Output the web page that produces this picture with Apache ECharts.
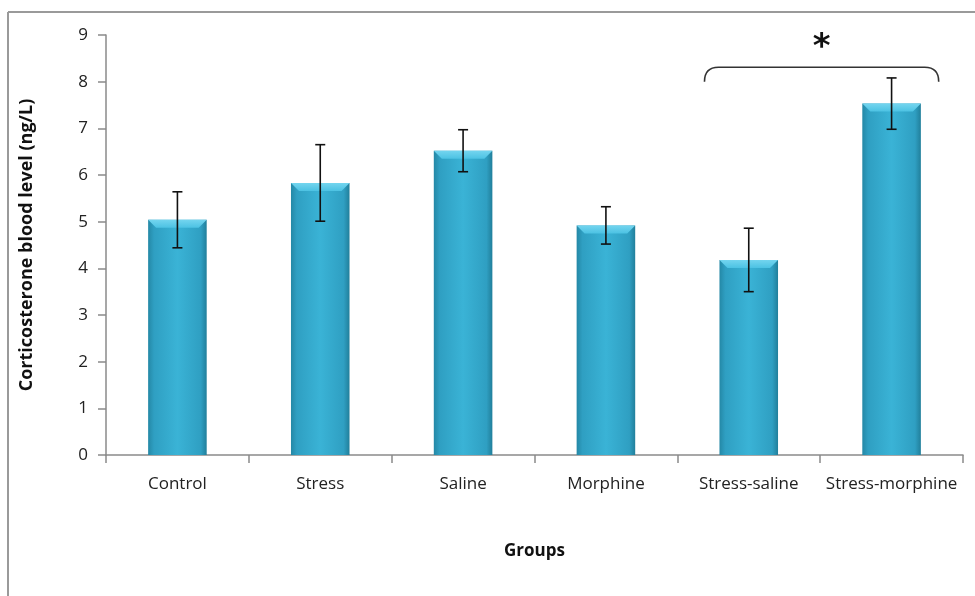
<!DOCTYPE html>
<html>
<head>
<meta charset="utf-8">
<script src="https://cdn.jsdelivr.net/npm/echarts@6/dist/echarts.min.js"></script>
<style>
html,body{margin:0;padding:0;background:#fff;}
#chart{width:975px;height:596px;}
</style>
</head>
<body>
<div id="chart"></div>
<script>
const categories = ['Control', 'Stress', 'Saline', 'Morphine', 'Stress-saline', 'Stress-morphine'];
const means = [5.04, 5.83, 6.52, 4.92, 4.18, 7.53];
const errors = [0.60, 0.82, 0.45, 0.40, 0.68, 0.55];
const yMin = 0, yMax = 9, yInterval = 1;
const bracketGroups = [4, 5];
const bracketTop = 8.31;
const bracketCurl = 8.0;
const asteriskLevel = 8.72;
const yTitle = 'Corticosterone blood level (ng/L)';
const xTitle = 'Groups';

const FONT = '"Open Sans", "Liberation Sans", sans-serif';
const chart = echarts.init(document.getElementById('chart'));

const barGrad = new echarts.graphic.LinearGradient(0, 0, 1, 0, [
  {offset: 0, color: '#2488a6'},
  {offset: 0.1, color: '#2f9fc2'},
  {offset: 0.5, color: '#3ab3d6'},
  {offset: 0.9, color: '#2f9fc2'},
  {offset: 1, color: '#217f9b'}
]);

chart.setOption({
  animation: false,
  graphic: [
    {type: 'line', shape: {x1: 8, y1: 12, x2: 975, y2: 12}, style: {stroke: '#9a9a9a', lineWidth: 2}},
    {type: 'line', shape: {x1: 8, y1: 12, x2: 8, y2: 596}, style: {stroke: '#9a9a9a', lineWidth: 2}}
  ],
  grid: {left: 106, right: 12, top: 35, bottom: 141},
  xAxis: {
    type: 'category',
    data: categories,
    name: xTitle,
    nameLocation: 'middle',
    nameGap: 88,
    nameTextStyle: {fontFamily: FONT, fontWeight: 'bold', fontSize: 17, color: '#111'},
    axisLine: {lineStyle: {color: '#8a8a8a', width: 1.5}},
    axisTick: {show: true, interval: 0, length: 8, lineStyle: {color: '#8a8a8a', width: 1.5}},
    axisLabel: {interval: 0, fontFamily: FONT, fontSize: 17, color: '#222', margin: 21}
  },
  yAxis: {
    type: 'value',
    min: yMin, max: yMax, interval: yInterval,
    name: yTitle,
    nameLocation: 'middle',
    nameGap: 70,
    nameTextStyle: {fontFamily: FONT, fontWeight: 'bold', fontSize: 18, color: '#111'},
    axisLine: {show: true, lineStyle: {color: '#8a8a8a', width: 1.5}},
    axisTick: {show: true, length: 8, lineStyle: {color: '#8a8a8a', width: 1.5}},
    axisLabel: {fontFamily: FONT, fontSize: 17, color: '#222', margin: 18},
    splitLine: {show: false}
  },
  series: [
    {
      type: 'bar',
      data: means,
      barWidth: '41%',
      itemStyle: {color: barGrad},
      z: 2
    },
    {
      // top bevel of each bar
      type: 'custom',
      z: 3,
      data: means.map((v, i) => [i, v]),
      renderItem: function (params, api) {
        const top = api.coord([api.value(0), api.value(1)]);
        const bw = api.size([1, 0])[0] * 0.41;
        const x0 = top[0] - bw / 2, x1 = top[0] + bw / 2, y = top[1], b = 8;
        return {
          type: 'polygon',
          shape: {points: [[x0, y], [x1, y], [x1 - b, y + b], [x0 + b, y + b]]},
          style: {fill: new echarts.graphic.LinearGradient(0, 0, 0, 1, [{offset: 0, color: '#74d5ef'}, {offset: 1, color: '#4cc2e3'}])}
        };
      }
    },
    {
      // error bars
      type: 'custom',
      z: 4,
      data: means.map((v, i) => [i, v - errors[i], v + errors[i]]),
      renderItem: function (params, api) {
        const lo = api.coord([api.value(0), api.value(1)]);
        const hi = api.coord([api.value(0), api.value(2)]);
        const c = 5;
        const st = {stroke: '#111', lineWidth: 1.6};
        return {
          type: 'group',
          children: [
            {type: 'line', shape: {x1: hi[0], y1: hi[1], x2: lo[0], y2: lo[1]}, style: st},
            {type: 'line', shape: {x1: hi[0] - c, y1: hi[1], x2: hi[0] + c, y2: hi[1]}, style: st},
            {type: 'line', shape: {x1: lo[0] - c, y1: lo[1], x2: lo[0] + c, y2: lo[1]}, style: st}
          ]
        };
      }
    },
    {
      // significance bracket and asterisk
      type: 'custom',
      z: 5,
      data: [[bracketGroups[0], bracketGroups[1], bracketTop, bracketCurl, asteriskLevel]],
      renderItem: function (params, api) {
        const bw = api.size([1, 0])[0];
        const a = api.coord([api.value(0), api.value(2)]);
        const b = api.coord([api.value(1), api.value(2)]);
        const curl = api.coord([api.value(0), api.value(3)]);
        const star = api.coord([(api.value(0) + api.value(1)) / 2, api.value(4)]);
        const xl = a[0] - bw * 0.31, xr = b[0] + bw * 0.33;
        const yt = a[1], yb = curl[1];
        const r = 14;
        const path = 'M' + xl + ' ' + yb + ' Q' + xl + ' ' + yt + ' ' + (xl + r) + ' ' + yt +
          ' L' + (xr - r) + ' ' + yt + ' Q' + xr + ' ' + yt + ' ' + xr + ' ' + yb;
        return {
          type: 'group',
          children: [
            {type: 'path', shape: {pathData: path}, style: {fill: 'none', stroke: '#333', lineWidth: 1.6}},
            {type: 'text', x: (xl + xr) / 2, y: star[1], style: {text: '*', fontFamily: '"DejaVu Sans", sans-serif', fontWeight: 'bold', fontSize: 34, fill: '#111', align: 'center', verticalAlign: 'middle'}}
          ]
        };
      }
    }
  ]
});
</script>
</body>
</html>
